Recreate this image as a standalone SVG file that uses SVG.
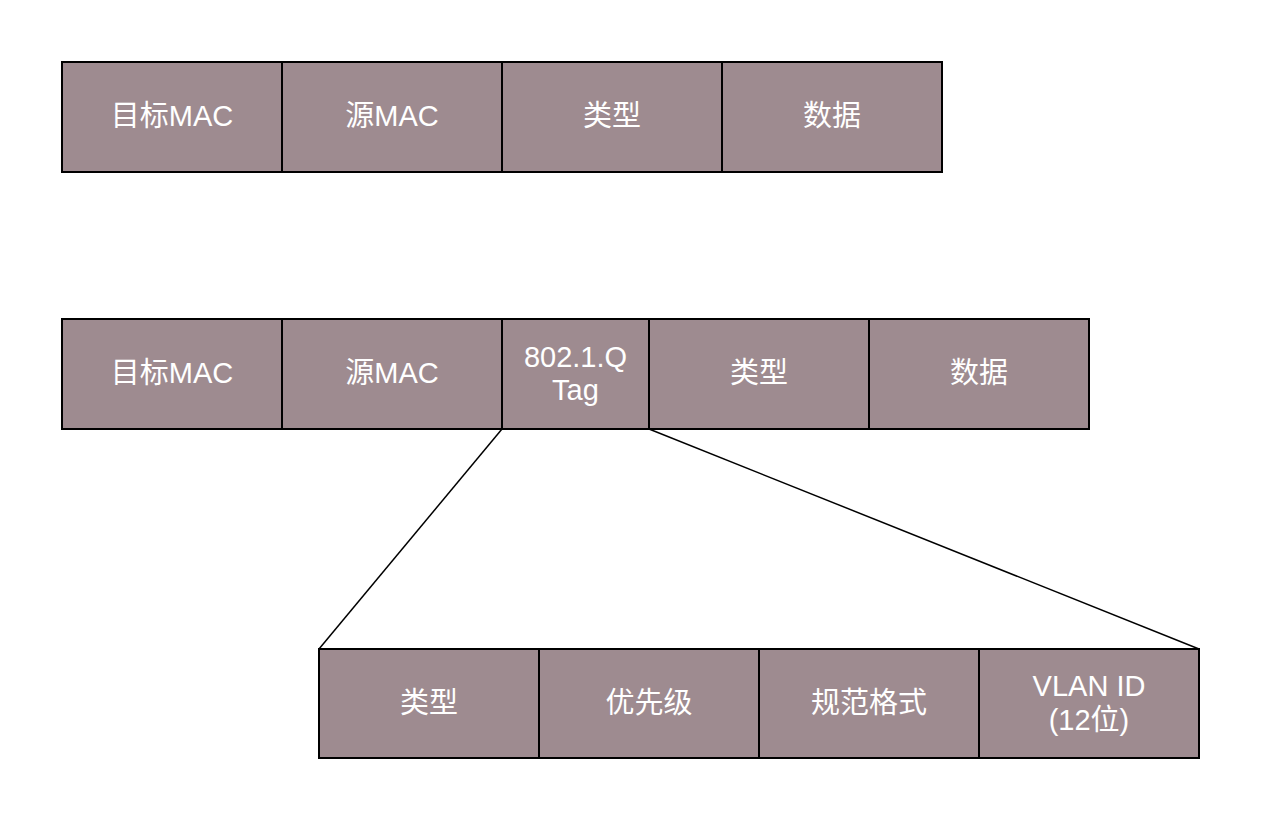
<svg xmlns="http://www.w3.org/2000/svg" width="1264" height="815" viewBox="0 0 1264 815">
<style>
.box{fill:#9e8b90;stroke:#000;stroke-width:2}
.t{font-family:"Liberation Sans","Noto Sans CJK SC",sans-serif;font-size:29px;fill:#fff;text-anchor:middle;dominant-baseline:central}
.c{stroke:#000;stroke-width:1.5;fill:none}
</style>
<rect width="1264" height="815" fill="#fff"/>
<g id="row1">
<g id="r1-dst"><rect class="box" x="62" y="62" width="220" height="110"/><text class="t" x="172" y="116">目标MAC</text></g>
<g id="r1-src"><rect class="box" x="282" y="62" width="220" height="110"/><text class="t" x="392" y="116">源MAC</text></g>
<g id="r1-type"><rect class="box" x="502" y="62" width="220" height="110"/><text class="t" x="612" y="116">类型</text></g>
<g id="r1-data"><rect class="box" x="722" y="62" width="220" height="110"/><text class="t" x="832" y="116">数据</text></g>
</g>
<g id="row2">
<g id="r2-dst"><rect class="box" x="62" y="319" width="220" height="110"/><text class="t" x="172" y="373">目标MAC</text></g>
<g id="r2-src"><rect class="box" x="282" y="319" width="220" height="110"/><text class="t" x="392" y="373">源MAC</text></g>
<g id="r2-tag"><rect class="box" x="502" y="319" width="147" height="110"/><text class="t" x="575.5" y="357">802.1.Q</text><text class="t" x="575.5" y="390">Tag</text></g>
<g id="r2-type"><rect class="box" x="649" y="319" width="220" height="110"/><text class="t" x="759" y="373">类型</text></g>
<g id="r2-data"><rect class="box" x="869" y="319" width="220" height="110"/><text class="t" x="979" y="373">数据</text></g>
</g>
<g id="row3">
<g id="r3-type"><rect class="box" x="319" y="649" width="220" height="109"/><text class="t" x="429" y="703">类型</text></g>
<g id="r3-pri"><rect class="box" x="539" y="649" width="220" height="109"/><text class="t" x="649" y="703">优先级</text></g>
<g id="r3-cfi"><rect class="box" x="759" y="649" width="220" height="109"/><text class="t" x="869" y="703">规范格式</text></g>
<g id="r3-vid"><rect class="box" x="979" y="649" width="220" height="109"/><text class="t" x="1089" y="686">VLAN ID</text><text class="t" x="1089" y="720">(12位)</text></g>
</g>
<g id="connectors">
<line class="c" x1="502" y1="429" x2="319" y2="649"/>
<line class="c" x1="649" y1="429" x2="1199" y2="649"/>
</g>
</svg>
